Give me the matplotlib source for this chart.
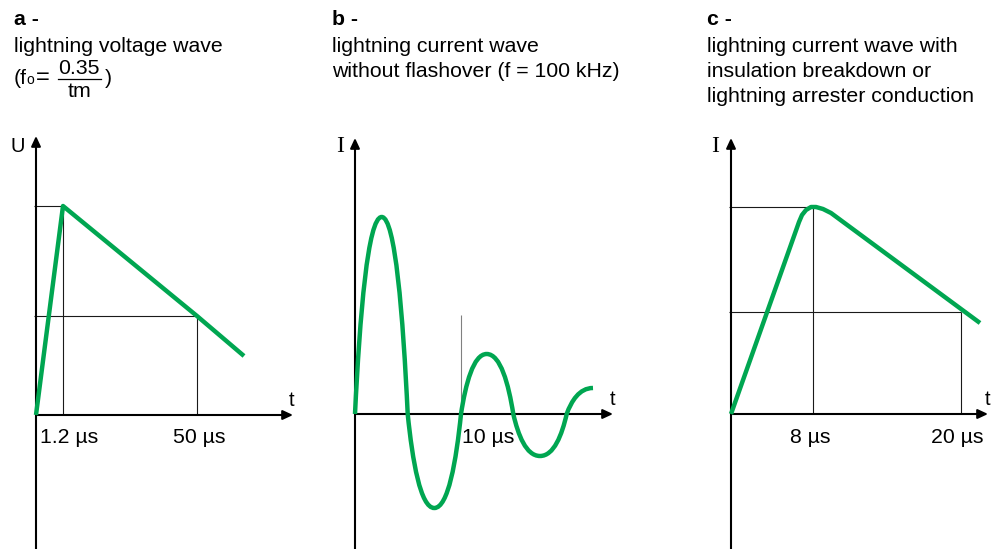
import matplotlib
matplotlib.use('Agg')
import matplotlib.pyplot as plt
from matplotlib.patches import FancyArrowPatch, PathPatch
from matplotlib.path import Path
from matplotlib.lines import Line2D

plt.rcParams['font.family'] = ['Liberation Sans', 'DejaVu Sans']

W, H = 994, 549
GREEN = '#00a651'

# --- panel a: lightning voltage wave (schematic units, origin at axis crossing)
volt_t = [0, 27, 161, 208]
volt_u = [0, 209, 99, 59]
volt_ticks = [27, 161]
volt_tick_labels = ['1.2 \u00b5s', '50 \u00b5s']

# --- panel b: damped oscillating current (zero crossings and extrema)
osc_zero_t = [0, 52.7, 106, 158.3, 211.7]
osc_peak_t = [26.7, 79.3, 131.7, 185, 238]
osc_peak_i = [197, -94, 60, -42, 26]
osc_ticks = [106]
osc_tick_labels = ['10 \u00b5s']
osc_mark_top = 99

# --- panel c: current wave with breakdown / arrester conduction
surge_t = [0, 68, 71, 75, 80, 85, 92, 100, 249]
surge_i = [0, 192, 199, 204, 207, 207, 205, 201, 91]
surge_ticks = [82, 230]
surge_levels = [207, 102]
surge_tick_labels = ['8 \u00b5s', '20 \u00b5s']

fig = plt.figure(figsize=(W / 100, H / 100), dpi=100)


def ftext(x, y, s, **kw):
    fig.text(x / W, 1 - y / H, s, va='baseline', fontsize=kw.pop('fontsize', 15.3), **kw)


def panel(ox, oy):
    ax = fig.add_axes([0, 0, 1, 1])
    ax.set_xlim(-ox, W - ox)
    ax.set_ylim(-(H - oy), oy)
    ax.axis('off')
    ax.patch.set_alpha(0)
    return ax


def arrow(ax, p0, p1):
    ax.add_patch(FancyArrowPatch(p0, p1, arrowstyle='-|>,head_length=0.6,head_width=0.28',
                                 mutation_scale=10, lw=1.5, color='black',
                                 shrinkA=0, shrinkB=0, zorder=3))


def guide(ax, xs, ys, color='#1a1a1a'):
    ax.plot(xs, ys, color=color, lw=0.8, zorder=2, solid_capstyle='butt')


SERIF = ['Liberation Serif', 'DejaVu Serif']

# ---------------- panel a
ax = panel(36, 415)
guide(ax, [-2, volt_t[1]], [volt_u[1]] * 2)
guide(ax, [-2, volt_t[2]], [volt_u[2]] * 2)
guide(ax, [volt_t[1]] * 2, [0, volt_u[1]])
guide(ax, [volt_t[2]] * 2, [0, volt_u[2]])
ax.plot(volt_t, volt_u, color=GREEN, lw=3.2, solid_joinstyle='round', solid_capstyle='butt', zorder=4)
arrow(ax, (0, -140), (0, 279))
arrow(ax, (0, 0), (257, 0))
ax.text(volt_ticks[0] - 23, -28, volt_tick_labels[0], ha='left', va='baseline', fontsize=15.3)
ax.text(volt_ticks[1] + 2, -28, volt_tick_labels[1], ha='center', va='baseline', fontsize=15.3)
ax.text(-25, 263, 'U', ha='left', va='baseline', fontsize=14.5)
ax.text(253, 9, 't', ha='left', va='baseline', fontsize=14.5)

# ---------------- panel b
ax = panel(355, 414)
verts, codes = [(osc_zero_t[0], 0)], [Path.MOVETO]
for k in range(len(osc_peak_t)):
    z, p, a = osc_zero_t[k], osc_peak_t[k], osc_peak_i[k]
    dx = p - z
    verts += [(z + 0.18 * dx, 0.5 * a), (z + 0.48 * dx, a), (p, a)]
    codes += [Path.CURVE4] * 3
    if k + 1 < len(osc_zero_t):
        z2 = osc_zero_t[k + 1]
        dx = z2 - p
        verts += [(p + 0.52 * dx, a), (z2 - 0.18 * dx, 0.5 * a), (z2, 0)]
        codes += [Path.CURVE4] * 3
ax.add_patch(PathPatch(Path(verts, codes), fill=False, edgecolor=GREEN, lw=3.2,
                       capstyle='butt', zorder=4))
guide(ax, [osc_ticks[0]] * 2, [0, osc_mark_top], color='#808080')
arrow(ax, (0, -140), (0, 276))
arrow(ax, (0, 0), (258, 0))
ax.text(osc_ticks[0] + 1.5, -29, osc_tick_labels[0], ha='left', va='baseline', fontsize=15.3)
ax.text(-19, 262, 'I', ha='left', va='baseline', fontsize=17, family=SERIF)
ax.text(255, 9, 't', ha='left', va='baseline', fontsize=14.5)

# ---------------- panel c
ax = panel(731, 414)
for tx, lv in zip(surge_ticks, surge_levels):
    guide(ax, [-2, tx], [lv, lv])
    guide(ax, [tx, tx], [0, lv])
ax.plot(surge_t, surge_i, color=GREEN, lw=3.2, solid_joinstyle='round', solid_capstyle='butt', zorder=4)
arrow(ax, (0, -140), (0, 276))
arrow(ax, (0, 0), (257, 0))
ax.text(surge_ticks[0] - 3, -29, surge_tick_labels[0], ha='center', va='baseline', fontsize=15.3)
ax.text(surge_ticks[1] - 4, -29, surge_tick_labels[1], ha='center', va='baseline', fontsize=15.3)
ax.text(-20, 262, 'I', ha='left', va='baseline', fontsize=17, family=SERIF)
ax.text(254, 9, 't', ha='left', va='baseline', fontsize=14.5)

# ---------------- headings
ftext(14, 25, 'a -', fontweight='bold')
ftext(14, 52, 'lightning voltage wave')
ftext(14, 84, '(f')
ftext(26, 84, 'o', fontsize=10)
ftext(36, 84, '=', fontsize=17)
ftext(79, 74, '0.35', ha='center')
fig.add_artist(Line2D([58 / W, 101 / W], [1 - 79 / H] * 2, color='black', lw=0.9))
ftext(80, 97, 'tm', ha='center')
ftext(105, 84, ')')

ftext(332, 25, 'b -', fontweight='bold')
ftext(332, 52, 'lightning current wave')
ftext(332, 77, 'without flashover (f = 100 kHz)')

ftext(707, 25, 'c -', fontweight='bold')
ftext(707, 52, 'lightning current wave with')
ftext(707, 77, 'insulation breakdown or')
ftext(707, 102, 'lightning arrester conduction')

fig.savefig('out.png', dpi=100)
